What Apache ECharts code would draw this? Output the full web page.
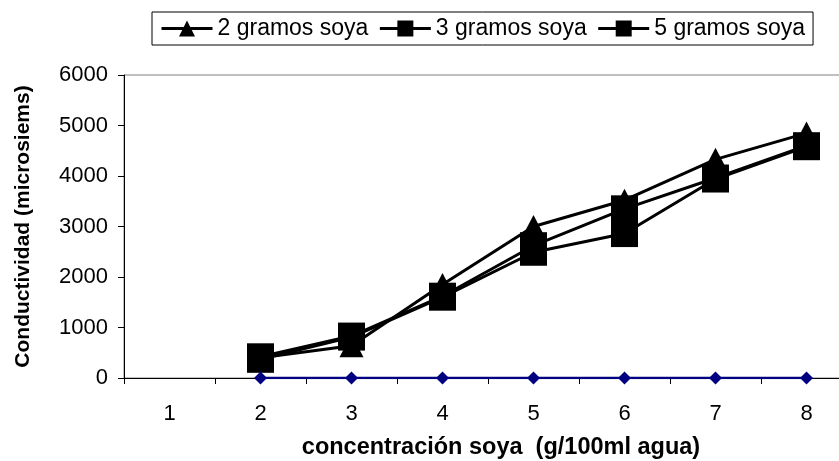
<!DOCTYPE html>
<html>
<head>
<meta charset="utf-8">
<script src="https://cdn.jsdelivr.net/npm/echarts@6/dist/echarts.min.js"></script>
<style>
html,body{margin:0;padding:0;background:#fff;}
#chart{width:839px;height:461px;}
</style>
</head>
<body>
<div id="chart"></div>
<script>
var categories = ['1','2','3','4','5','6','7','8'];
var soya2 = [null, 400, 640, 1850, 3000, 3520, 4330, 4850];
var soya3 = [null, 420, 830, 1620, 2620, 3350, 3960, 4600];
var soya5 = [null, 370, 810, 1600, 2490, 2860, 3940, 4580];
var base = [null, 0, 0, 0, 0, 0, 0, 0];
var seriesNames = ['2 gramos soya', '3 gramos soya', '5 gramos soya'];

var font = 'Liberation Sans, Arial, sans-serif';
var chart = echarts.init(document.getElementById('chart'), null, {renderer: 'canvas'});
var lineSeries = function(name, data, symbol, size) {
  return {
    name: name, type: 'line', data: data, symbol: symbol, symbolSize: size,
    showSymbol: true, connectNulls: false,
    lineStyle: {color: '#000', width: 3},
    itemStyle: {color: '#000', borderWidth: 0},
    animation: false
  };
};
chart.setOption({
  backgroundColor: '#fff',
  animation: false,
  grid: {left: 124, top: 75, width: 728, height: 303, containLabel: false, outerBoundsMode: 'none',
    show: true, borderColor: '#808080', borderWidth: 1, backgroundColor: 'transparent'},
  legend: {
    data: seriesNames,
    left: 152, top: 12,
    padding: [5, 8, 5, 8],
    itemGap: 10, itemWidth: 51, itemHeight: 20,
    lineStyle: {width: 3, color: '#000'},
    borderColor: '#000', borderWidth: 1,
    textStyle: {fontFamily: font, fontSize: 23, color: '#000'}
  },
  xAxis: {
    type: 'category', data: categories, boundaryGap: true,
    name: 'concentración soya  (g/100ml agua)', nameLocation: 'middle', nameGap: 58,
    nameTextStyle: {fontFamily: font, fontSize: 23.5, fontWeight: 'bold', color: '#000', padding: [0, 0, 0, 26]},
    axisLine: {lineStyle: {color: '#000', width: 1}},
    axisTick: {show: true, interval: 0, length: 6, lineStyle: {color: '#000'}},
    axisLabel: {fontFamily: font, fontSize: 22, color: '#000', margin: 25},
    splitLine: {show: false}
  },
  yAxis: {
    type: 'value', min: 0, max: 6000, interval: 1000,
    name: 'Conductividad (microsiems)', nameLocation: 'middle', nameGap: 90,
    nameTextStyle: {fontFamily: font, fontSize: 21, fontWeight: 'bold', color: '#000'},
    axisLine: {show: true, lineStyle: {color: '#000', width: 1}},
    axisTick: {show: true, length: 6, lineStyle: {color: '#000'}},
    axisLabel: {fontFamily: font, fontSize: 22, color: '#000', margin: 16,
      formatter: function (v) { return String(v); }},
    splitLine: {show: false}
  },
  series: [
    lineSeries(seriesNames[0], soya2, 'triangle', [24, 23]),
    lineSeries(seriesNames[1], soya3, 'rect', 27),
    lineSeries(seriesNames[2], soya5, 'rect', 27),
    {
      name: 'base', type: 'line', data: base, symbol: 'diamond', symbolSize: 13,
      lineStyle: {color: '#000080', width: 2.5}, itemStyle: {color: '#000080'},
      animation: false
    }
  ]
});
</script>
</body>
</html>
